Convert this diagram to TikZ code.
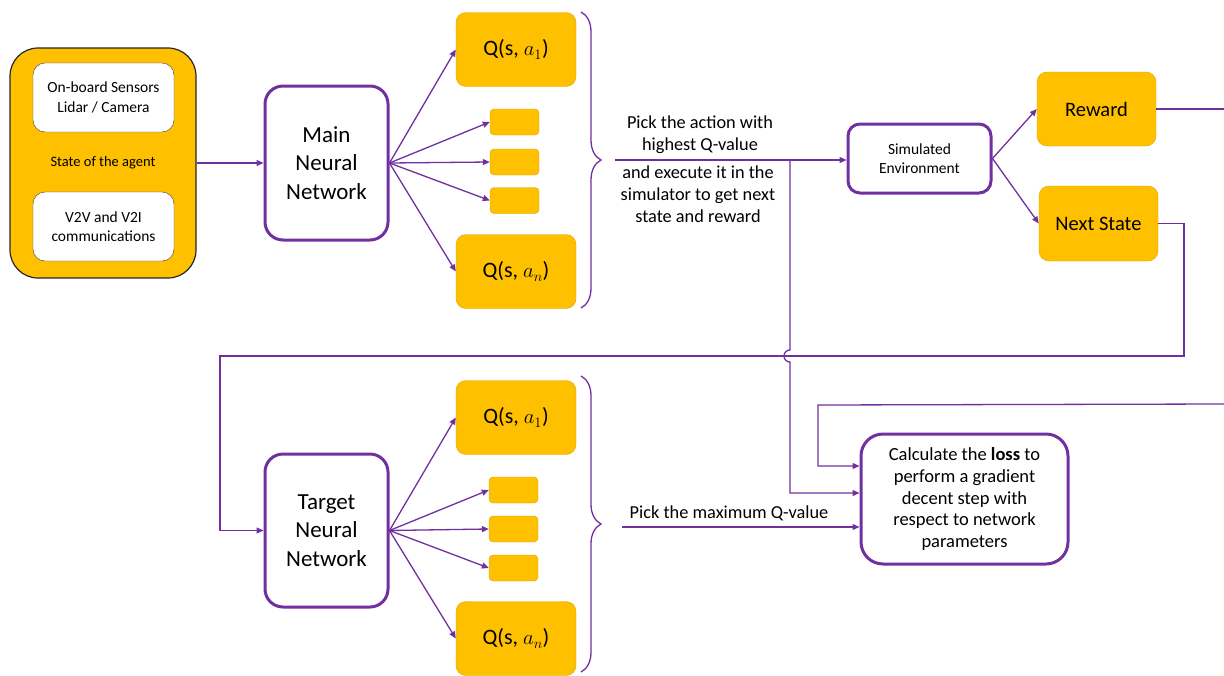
\documentclass[tikz,border=0pt]{standalone}
\usepackage{fontspec}
\setmainfont{Carlito}
\usetikzlibrary{arrows.meta, positioning, decorations.pathreplacing}
\definecolor{qorange}{HTML}{FFC000}
\definecolor{qpurple}{HTML}{7030A0}
\definecolor{qedge}{HTML}{D9A600}

\begin{document}
\begin{tikzpicture}[
    x=1pt, y=-1pt,
    nn/.style={draw=qpurple, line width=3pt, rounded corners=18pt, fill=white,
      align=center, inner sep=0pt},
    qbox/.style={draw=qedge, fill=qorange, rounded corners=10pt, minimum width=120pt,
      minimum height=74pt, inner sep=0pt, font=\fontsize{22}{26}\selectfont},
    dot/.style={draw=qedge, fill=qorange, rounded corners=4pt, minimum width=49pt,
      minimum height=26pt, inner sep=0pt},
    inbox/.style={draw=black!75, fill=white, rounded corners=12pt, minimum width=141pt,
      minimum height=69pt, align=center, font=\fontsize{15.5}{19.5}\selectfont},
    flow/.style={draw=qpurple, line width=1.3pt, -{Triangle[length=7pt,width=6pt]}},
    wire/.style={draw=qpurple, line width=1.3pt},
    brc/.style={draw=qpurple, line width=1.3pt, decorate,
      decoration={brace, amplitude=20pt}},
    lbl/.style={align=center, font=\fontsize{18.3}{22}\selectfont},
  ]
  \useasboundingbox (0,0) rectangle (1224,675);
  % state of the agent
  \node[draw=black!85, line width=1.2pt, fill=qorange, rounded corners=28pt,
    minimum width=186pt, minimum height=230pt] (state) at (103,163) {};
  \node[inbox] (sens) at (103.5,97.5) {On-board Sensors\\Lidar / Camera};
  \node[inbox] (v2v) at (103.5,226.5) {V2V and V2I\\communications};
  \node[font=\fontsize{14.5}{17}\selectfont] (stlbl) at (103,163) {State of the agent};
  % the two networks
  \node[nn, minimum width=123pt, minimum height=154pt, font=\fontsize{23}{28.5}\selectfont]
    (main) at (326.5,163) {Main\\Neural\\Network};
  \node[nn, minimum width=123pt, minimum height=153pt, font=\fontsize{23}{28.5}\selectfont]
    (target) at (326.5,530.5) {Target\\Neural\\Network};
  % Q-values of the main network
  \node[qbox] (mq1) at (516,49.5) {Q(s, $a_1$)};
  \node[dot] (ms1) at (514.5,122) {};
  \node[dot] (ms2) at (514.5,162) {};
  \node[dot] (ms3) at (514.5,200.5) {};
  \node[qbox] (mqn) at (516,271.5) {Q(s, $a_n$)};
  % Q-values of the target network
  \node[qbox] (tq1) at (516,417.5) {Q(s, $a_1$)};
  \node[dot] (ts1) at (513.5,490) {};
  \node[dot] (ts2) at (513.5,529) {};
  \node[dot] (ts3) at (513.5,568) {};
  \node[qbox] (tqn) at (516,638.5) {Q(s, $a_n$)};
  % environment, reward, next state, loss
  \node[nn, minimum width=143pt, minimum height=69pt, rounded corners=12pt,
    font=\fontsize{15.5}{19.5}\selectfont] (sim) at (919.5,158.5) {Simulated\\Environment};
  \node[qbox, minimum width=119pt, font=\fontsize{20.5}{24}\selectfont]
    (reward) at (1096.5,109) {Reward};
  \node[qbox, minimum width=119pt, minimum height=75pt, font=\fontsize{20.5}{24}\selectfont]
    (next) at (1098.5,223.5) {Next State};
  \node[nn, minimum width=207pt, minimum height=130pt, rounded corners=22pt,
    font=\fontsize{18.5}{21.8}\selectfont] (loss) at (964.5,499)
    {Calculate the \textbf{loss} to\\perform a gradient\\decent step with\\respect to network\\parameters};
  % labels
  \node[lbl] (pick) at (700,135) {Pick the action with\\highest Q-value};
  \node[lbl] (exec) at (698,194) {and execute it in the\\simulator to get next\\state and reward};
  \node[lbl] (pickmax) at (729,513) {Pick the maximum Q-value};
  % braces
  \draw[brc] (581,12) -- (581,308);
  \draw[brc] (581,376) -- (581,672);
  % free ends
  \coordinate (pickA) at (615,160);
  \coordinate (drop) at (790,160);
  \coordinate (pickB) at (622,527);
  \coordinate (edgeR) at (1224,0);
  \coordinate (edgeIn) at (1224,404);
  \coordinate (lossIn) at (818,405);
  \coordinate (loopR) at (1184,356);
  \coordinate (loopL) at (220,356);
  % connectors
  \draw[flow] (state.east |- main) -- (main.west);
  \foreach \q in {mq1, ms1, ms2, ms3, mqn}
    \draw[flow] (main.east) -- (\q.west);
  \foreach \q in {tq1, ts1, ts2, ts3, tqn}
    \draw[flow] (target.east) -- (\q.west);
  \draw[flow] (pickA) -- (pickA -| sim.west);
  \draw[flow] (sim.east) -- (reward.west);
  \draw[flow] (sim.east) -- (next.west);
  \draw[wire] (reward.east) -- (reward.east -| edgeR);
  \draw[flow] (next.east) -| (loopR) -- (loopL) |- (target.west);
  \draw[flow] (edgeIn) -- (lossIn) |- ([yshift=33pt]loss.west);
  \draw[flow] (drop) -- (790,350) arc[start angle=270, end angle=90, radius=6]
    |- ([yshift=6pt]loss.west);
  \draw[flow] (pickB) -- (pickB -| loss.west);
\end{tikzpicture}
\end{document}
